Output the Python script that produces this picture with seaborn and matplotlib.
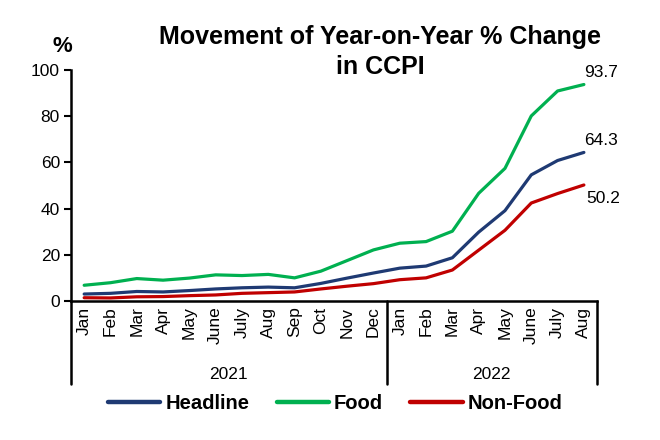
import pandas as pd
import numpy as np
import matplotlib.pyplot as plt
import seaborn as sns

# ── Data ──────────────────────────────────────────────
months = ['Jan', 'Feb', 'Mar', 'Apr', 'May', 'June', 'July', 'Aug', 'Sep', 'Oct', 'Nov', 'Dec',
          'Jan', 'Feb', 'Mar', 'Apr', 'May', 'June', 'July', 'Aug']
years = ['2021', '2022']
headline = [3.0, 3.3, 4.1, 3.9, 4.5, 5.2, 5.7, 6.0, 5.7, 7.6, 9.9, 12.1,
            14.2, 15.1, 18.7, 29.8, 39.1, 54.6, 60.8, 64.3]
food = [6.8, 7.9, 9.7, 9.0, 9.9, 11.3, 11.0, 11.5, 10.0, 12.9, 17.5, 22.1,
        25.0, 25.7, 30.2, 46.6, 57.4, 80.1, 90.9, 93.7]
non_food = [1.4, 1.3, 1.8, 1.9, 2.3, 2.6, 3.3, 3.6, 3.9, 5.2, 6.4, 7.5,
            9.2, 10.0, 13.4, 22.0, 30.6, 42.4, 46.5, 50.2]

series = ['Headline', 'Food', 'Non-Food']
colors = {'Headline': '#1F3A73', 'Food': '#00B050', 'Non-Food': '#C00000'}

df = pd.DataFrame({'idx': np.arange(len(months)),
                   'Headline': headline, 'Food': food, 'Non-Food': non_food})
long = df.melt(id_vars='idx', value_vars=series, var_name='Series', value_name='Value')

# ── Plot ──────────────────────────────────────────────
sns.set_style('white')
plt.rcParams['font.family'] = ['Liberation Sans', 'DejaVu Sans']
plt.rcParams['text.color'] = 'black'
plt.rcParams['xtick.color'] = 'black'
plt.rcParams['ytick.color'] = 'black'

fig = plt.figure(figsize=(6.6, 4.4), dpi=100)
ax = fig.add_axes([0.1076, 0.316, 0.797, 0.525])

sns.lineplot(data=long, x='idx', y='Value', hue='Series', hue_order=series,
             palette=colors, linewidth=2.3, ax=ax, legend=False)

ax.set_xlim(-0.5, len(months) - 0.5)
ax.set_ylim(0, 100)
ax.set_yticks(range(0, 101, 20))
ax.set_xticks(range(len(months)))
ax.set_xticklabels(months, rotation=90, fontsize=12.5)
ax.tick_params(axis='y', labelsize=12.5, length=5, width=1.5, direction='out', left=True, pad=3)
ax.tick_params(axis='x', length=0, pad=4)
ax.set_xlabel('')
ax.set_ylabel('')
for s in ['top', 'right']:
    ax.spines[s].set_visible(False)
for s in ['left', 'bottom']:
    ax.spines[s].set_linewidth(1.8)
    ax.spines[s].set_color('black')

# group separators and year labels
trans = ax.get_xaxis_transform()
for xv in [-0.5, 11.5, 19.5]:
    ax.plot([xv, xv], [0, -0.36], transform=trans, color='black', lw=1.8, clip_on=False)
ax.text(5.5, -0.32, years[0], transform=trans, ha='center', va='center', fontsize=12.5)
ax.text(15.5, -0.32, years[1], transform=trans, ha='center', va='center', fontsize=12.5)

# end labels
last = len(months) - 1
ax.annotate(f'{food[-1]:.1f}', (last, food[-1]), xytext=(0, 3), textcoords='offset points',
            ha='left', va='bottom', fontsize=12.5, annotation_clip=False)
ax.annotate(f'{headline[-1]:.1f}', (last, headline[-1]), xytext=(0, 3), textcoords='offset points',
            ha='left', va='bottom', fontsize=12.5, annotation_clip=False)
ax.annotate(f'{non_food[-1]:.1f}', (last, non_food[-1]), xytext=(2, -4), textcoords='offset points',
            ha='left', va='top', fontsize=12.5, annotation_clip=False)

# title (two lines drawn separately)
fig.text(0.576, 0.916, 'Movement of Year-on-Year % Change', ha='center', va='center',
         fontsize=18, fontweight='bold')
fig.text(0.576, 0.848, 'in CCPI', ha='center', va='center',
         fontsize=18, fontweight='bold')
fig.text(0.094, 0.895, '%', ha='center', va='center', fontsize=16, fontweight='bold')

handles = [plt.Line2D([], [], color=colors[s], lw=3.2) for s in series]
leg = fig.legend(handles, series, loc='center', bbox_to_anchor=(0.508, 0.083), ncol=3,
                 frameon=False, handlelength=2.6, handletextpad=0.25, columnspacing=1.35,
                 prop={'weight': 'bold', 'size': 14.5})

plt.savefig('out.png', dpi=100)
